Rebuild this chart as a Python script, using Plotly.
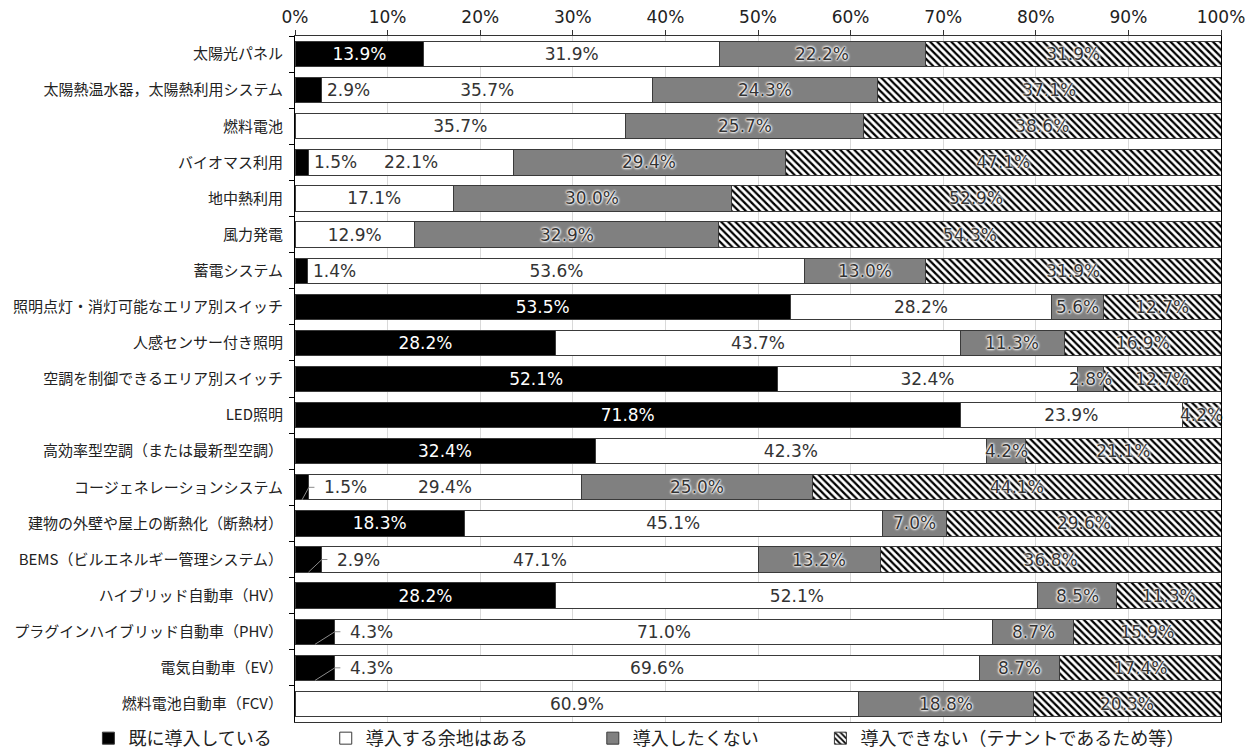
import plotly.graph_objects as go

categories = [
    "太陽光パネル",
    "太陽熱温水器，太陽熱利用システム",
    "燃料電池",
    "バイオマス利用",
    "地中熱利用",
    "風力発電",
    "蓄電システム",
    "照明点灯・消灯可能なエリア別スイッチ",
    "人感センサー付き照明",
    "空調を制御できるエリア別スイッチ",
    "LED照明",
    "高効率型空調（または最新型空調）",
    "コージェネレーションシステム",
    "建物の外壁や屋上の断熱化（断熱材）",
    "BEMS（ビルエネルギー管理システム）",
    "ハイブリッド自動車（HV）",
    "プラグインハイブリッド自動車（PHV）",
    "電気自動車（EV）",
    "燃料電池自動車（FCV）",
]

series_names = [
    "既に導入している",
    "導入する余地はある",
    "導入したくない",
    "導入できない（テナントであるため等）",
]

already = [13.9, 2.9, 0, 1.5, 0, 0, 1.4, 53.5, 28.2, 52.1, 71.8, 32.4, 1.5, 18.3, 2.9, 28.2, 4.3, 4.3, 0]
room = [31.9, 35.7, 35.7, 22.1, 17.1, 12.9, 53.6, 28.2, 43.7, 32.4, 23.9, 42.3, 29.4, 45.1, 47.1, 52.1, 71.0, 69.6, 60.9]
unwilling = [22.2, 24.3, 25.7, 29.4, 30.0, 32.9, 13.0, 5.6, 11.3, 2.8, 0, 4.2, 25.0, 7.0, 13.2, 8.5, 8.7, 8.7, 18.8]
unable = [31.9, 37.1, 38.6, 47.1, 52.9, 54.3, 31.9, 12.7, 16.9, 12.7, 4.2, 21.1, 44.1, 29.6, 36.8, 11.3, 15.9, 17.4, 20.3]

# style config: categories whose small first-segment label uses a leader line
leader_cats = [
    "コージェネレーションシステム",
    "BEMS（ビルエネルギー管理システム）",
    "プラグインハイブリッド自動車（PHV）",
    "電気自動車（EV）",
]

SMALL = 10  # first-segment values below this are labelled outside the bar
NUM_FONT = "DejaVu Sans, Noto Sans CJK JP, sans-serif"
JP_FONT = "Noto Sans CJK JP, sans-serif"
GLOW = "white 0px 0px 2px, white 0px 0px 2px, white 0px 0px 3px, white 0px 0px 3px"

def fmt(v):
    return f"{v:.1f}%" if v > 0 else ""

totals = [a + b + c + d for a, b, c, d in zip(already, room, unwilling, unable)]

fig = go.Figure()

styles = [
    dict(color="#000000", pattern=None, tcolor="white", shadow="none"),
    dict(color="#ffffff", pattern=None, tcolor="#333333", shadow="none"),
    dict(color="#808080", pattern=None, tcolor="#333333", shadow=GLOW),
    dict(color="#ffffff", pattern=dict(shape="\\", fgcolor="#000000", bgcolor="#ffffff",
                                       size=5, solidity=0.45, fgopacity=1),
         tcolor="#333333", shadow=GLOW),
]

all_series = [already, room, unwilling, unable]
for k, (name, vals, st) in enumerate(zip(series_names, all_series, styles)):
    if k == 0:
        texts = [fmt(v) if v >= SMALL else "" for v in vals]
    elif k == 2:
        texts = ["" for v in vals]  # drawn as annotations so they sit above the next segment
    else:
        texts = [fmt(v) for v in vals]
    marker = dict(color=st["color"], line=dict(color="#3a3a3a", width=1))
    if st["pattern"] is not None:
        marker["pattern"] = st["pattern"]
    fig.add_trace(go.Bar(
        y=categories, x=vals, name=name, orientation="h",
        marker=marker,
        text=texts, texttemplate="%{text}",
        textposition="inside", insidetextanchor="middle", textangle=0,
        constraintext="none", cliponaxis=False,
        textfont=dict(family=NUM_FONT, size=17, color=st["tcolor"], shadow=st["shadow"]),
        legend="legend" if k == 0 else f"legend{k+1}",
        hoverinfo="skip",
    ))

shapes = []
annotations = []
# labels of the grey segments
for cat, a, b, c, tot in zip(categories, already, room, unwilling, totals):
    if c > 0:
        annotations.append(dict(
            x=(a + b + c / 2) / tot * 100, y=cat, xref="x", yref="y", text=fmt(c),
            showarrow=False, xanchor="center", yanchor="middle",
            font=dict(family=NUM_FONT, size=17, color="#333333", shadow=GLOW),
        ))
# outside labels for small first segments
for i, (cat, v, tot) in enumerate(zip(categories, already, totals)):
    if 0 < v < SMALL:
        vn = v / tot * 100
        has_leader = cat in leader_cats
        annotations.append(dict(
            x=vn, y=cat, xref="x", yref="y", text=fmt(v), showarrow=False,
            xanchor="left", yanchor="middle", xshift=13 if has_leader else 3,
            font=dict(family=NUM_FONT, size=17, color="#333333"),
        ))
        if has_leader:
            shapes.append(dict(type="line", xref="x", yref="y",
                               x0=vn / 2, y0=i + 0.35, x1=vn, y1=i,
                               line=dict(color="#8c8c8c", width=1)))
            shapes.append(dict(type="line", xref="x", yref="y",
                               x0=vn, y0=i, x1=vn + 0.6, y1=i,
                               line=dict(color="#8c8c8c", width=1)))

legend_common = dict(orientation="h", yanchor="middle", y=-0.024,
                     bgcolor="rgba(0,0,0,0)", borderwidth=0,
                     font=dict(family=JP_FONT, size=18, color="#222222"),
                     xanchor="left")

fig.update_layout(
    barmode="stack", barnorm="percent", bargap=0.3,
    width=1243, height=741,
    margin=dict(l=287, r=30, t=28, b=27, autoexpand=False),
    paper_bgcolor="white", plot_bgcolor="white",
    showlegend=True,
    legend=dict(x=-0.2231, **legend_common),
    legend2=dict(x=0.0332, **legend_common),
    legend3=dict(x=0.3216, **legend_common),
    legend4=dict(x=0.5674, **legend_common),
    uniformtext=dict(minsize=17, mode="show"),
    xaxis=dict(
        side="top", range=[0, 100], dtick=10, ticksuffix="%",
        showgrid=True, gridcolor="#d9d9d9", gridwidth=1,
        showline=True, linecolor="#333333", linewidth=1, mirror=True,
        ticks="outside", ticklen=5, tickcolor="#333333",
        tickfont=dict(family=NUM_FONT, size=17, color="#222222"),
        zeroline=False, fixedrange=True,
    ),
    yaxis=dict(
        categoryorder="array", categoryarray=categories, autorange="reversed",
        showline=True, linecolor="#000000", linewidth=1, mirror=True,
        ticks="outside", ticklen=5, tickcolor="#000000", tickson="boundaries",
        tickfont=dict(family=JP_FONT, size=15, color="#222222"),
        ticklabelstandoff=8, showgrid=False, fixedrange=True,
    ),
    shapes=shapes,
    annotations=annotations,
)

fig.write_html("out.html")
